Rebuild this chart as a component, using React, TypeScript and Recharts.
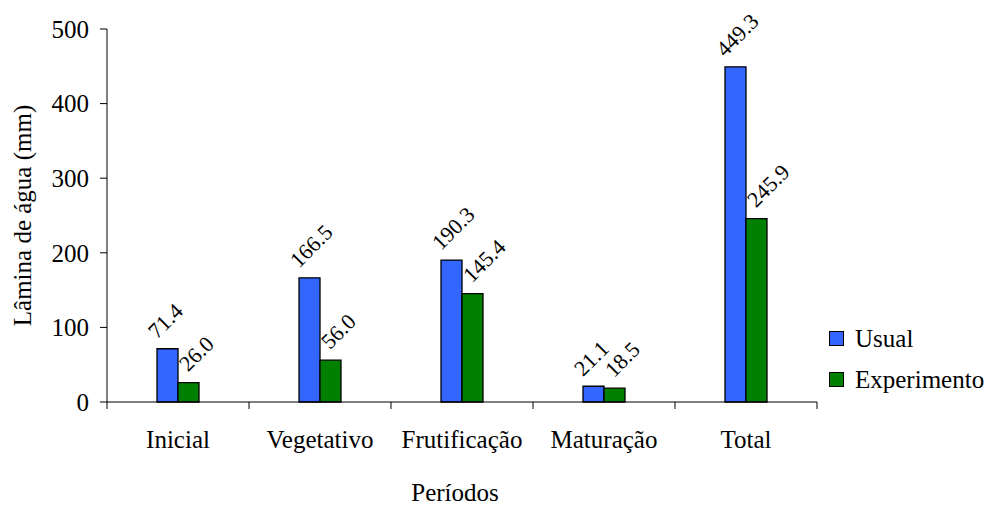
import React from 'react';
import { BarChart, Bar, XAxis, YAxis, Legend, LabelList } from 'recharts';

// Irrigation depth per crop period
const PERIODS = ['Inicial', 'Vegetativo', 'Frutificação', 'Maturação', 'Total'];
const USUAL = [71.4, 166.5, 190.3, 21.1, 449.3];
const EXPERIMENTO = [26.0, 56.0, 145.4, 18.5, 245.9];
const Y_TICKS = [0, 100, 200, 300, 400, 500];
const SERIES_ORDER = ['Usual', 'Experimento'];

const data = PERIODS.map((periodo, i) => ({
  periodo,
  usual: USUAL[i],
  experimento: EXPERIMENTO[i],
}));

const FONT = '"Liberation Serif", "Times New Roman", Times, serif';
const AXIS_FONT_SIZE = 25;
const LABEL_FONT_SIZE = 22;
const TICK_SIZE = 7;
const X_TICK_MARGIN = 2;
const BLUE = '#3366FF';
const GREEN = '#008000';

// Category tick: label centred in the band, tick marks on the band edges
const PeriodTick = (props: any) => {
  const { x, y, payload, index } = props;
  const half = typeof payload?.offset === 'number' ? payload.offset : 0;
  const axisY = y - X_TICK_MARGIN - TICK_SIZE;
  const isLast = index === PERIODS.length - 1;
  return (
    <g>
      <line x1={x - half} x2={x - half} y1={axisY} y2={axisY + TICK_SIZE} stroke="#000" strokeWidth={1} />
      {isLast && (
        <line x1={x + half} x2={x + half} y1={axisY} y2={axisY + TICK_SIZE} stroke="#000" strokeWidth={1} />
      )}
      <text x={x} y={axisY + 46} textAnchor="middle" fontFamily={FONT} fontSize={AXIS_FONT_SIZE} fill="#000">
        {payload.value}
      </text>
    </g>
  );
};

// Rotated value label sitting on top of each bar
const makeValueLabel = (dx: number, dy: number) => (props: any) => {
  const { x, y, value } = props;
  const lx = Number(x) + dx;
  const ly = Number(y) + dy;
  return (
    <text
      x={lx}
      y={ly}
      transform={`rotate(-45 ${lx} ${ly})`}
      fontFamily={FONT}
      fontSize={LABEL_FONT_SIZE}
      fill="#000"
      textAnchor="start"
    >
      {Number(value).toFixed(1)}
    </text>
  );
};

const YTitle = (props: any) => {
  const vb = props.viewBox || {};
  const cx = 22;
  const cy = (vb.y ?? 0) + (vb.height ?? 0) / 2;
  return (
    <text
      x={cx}
      y={cy}
      transform={`rotate(-90 ${cx} ${cy})`}
      textAnchor="middle"
      dominantBaseline="central"
      fontFamily={FONT}
      fontSize={AXIS_FONT_SIZE}
      fill="#000"
    >
      Lâmina de água (mm)
    </text>
  );
};

const XTitle = (props: any) => {
  const vb = props.viewBox || {};
  const cx = (vb.x ?? 0) + (vb.width ?? 0) / 2 - 7;
  const by = (vb.y ?? 0) + 99;
  return (
    <text x={cx} y={by} textAnchor="middle" fontFamily={FONT} fontSize={AXIS_FONT_SIZE} fill="#000">
      Períodos
    </text>
  );
};

const LegendBox = (props: any) => {
  const items = [...(props.payload || [])].sort(
    (a: any, b: any) => SERIES_ORDER.indexOf(a.value) - SERIES_ORDER.indexOf(b.value)
  );
  return (
    <div style={{ fontFamily: FONT, fontSize: AXIS_FONT_SIZE, color: '#000' }}>
      {items.map((it: any) => (
        <div key={it.value} style={{ display: 'flex', alignItems: 'center', height: 41 }}>
          <span
            style={{
              display: 'inline-block',
              width: 15,
              height: 15,
              boxSizing: 'border-box',
              background: it.color,
              border: '1px solid #000',
              marginRight: 11,
            }}
          />
          <span style={{ lineHeight: '41px', whiteSpace: 'nowrap' }}>{it.value}</span>
        </div>
      ))}
    </div>
  );
};

export default function App() {
  return (
    <div style={{ position: 'absolute', left: 0, top: 0, width: 987, height: 506, background: '#fff' }}>
      <BarChart
        width={987}
        height={506}
        data={data}
        margin={{ top: 29, right: 170, bottom: 0, left: 0 }}
        barGap={0}
        barSize={21}
      >
        <XAxis
          dataKey="periodo"
          height={104}
          interval={0}
          tickLine={false}
          tickSize={TICK_SIZE}
          tickMargin={X_TICK_MARGIN}
          axisLine={{ stroke: '#000', strokeWidth: 1 }}
          tick={<PeriodTick />}
          label={<XTitle />}
        />
        <YAxis
          width={107}
          domain={[0, 500]}
          ticks={Y_TICKS}
          interval={0}
          tickSize={TICK_SIZE}
          tickMargin={11}
          axisLine={{ stroke: '#000', strokeWidth: 1 }}
          tickLine={{ stroke: '#000', strokeWidth: 1 }}
          tick={{ fontFamily: FONT, fontSize: AXIS_FONT_SIZE, fill: '#000' }}
          label={<YTitle />}
        />
        <Legend
          layout="vertical"
          align="center"
          verticalAlign="middle"
          wrapperStyle={{ left: 829, top: 318, width: 158 }}
          content={<LegendBox />}
        />
        <Bar dataKey="usual" name="Usual" fill={BLUE} stroke="#000" strokeWidth={1.3} isAnimationActive={false}>
          <LabelList dataKey="usual" content={makeValueLabel(0, -9)} />
        </Bar>
        <Bar dataKey="experimento" name="Experimento" fill={GREEN} stroke="#000" strokeWidth={1.3} isAnimationActive={false}>
          <LabelList dataKey="experimento" content={makeValueLabel(10, -10)} />
        </Bar>
      </BarChart>
    </div>
  );
}
